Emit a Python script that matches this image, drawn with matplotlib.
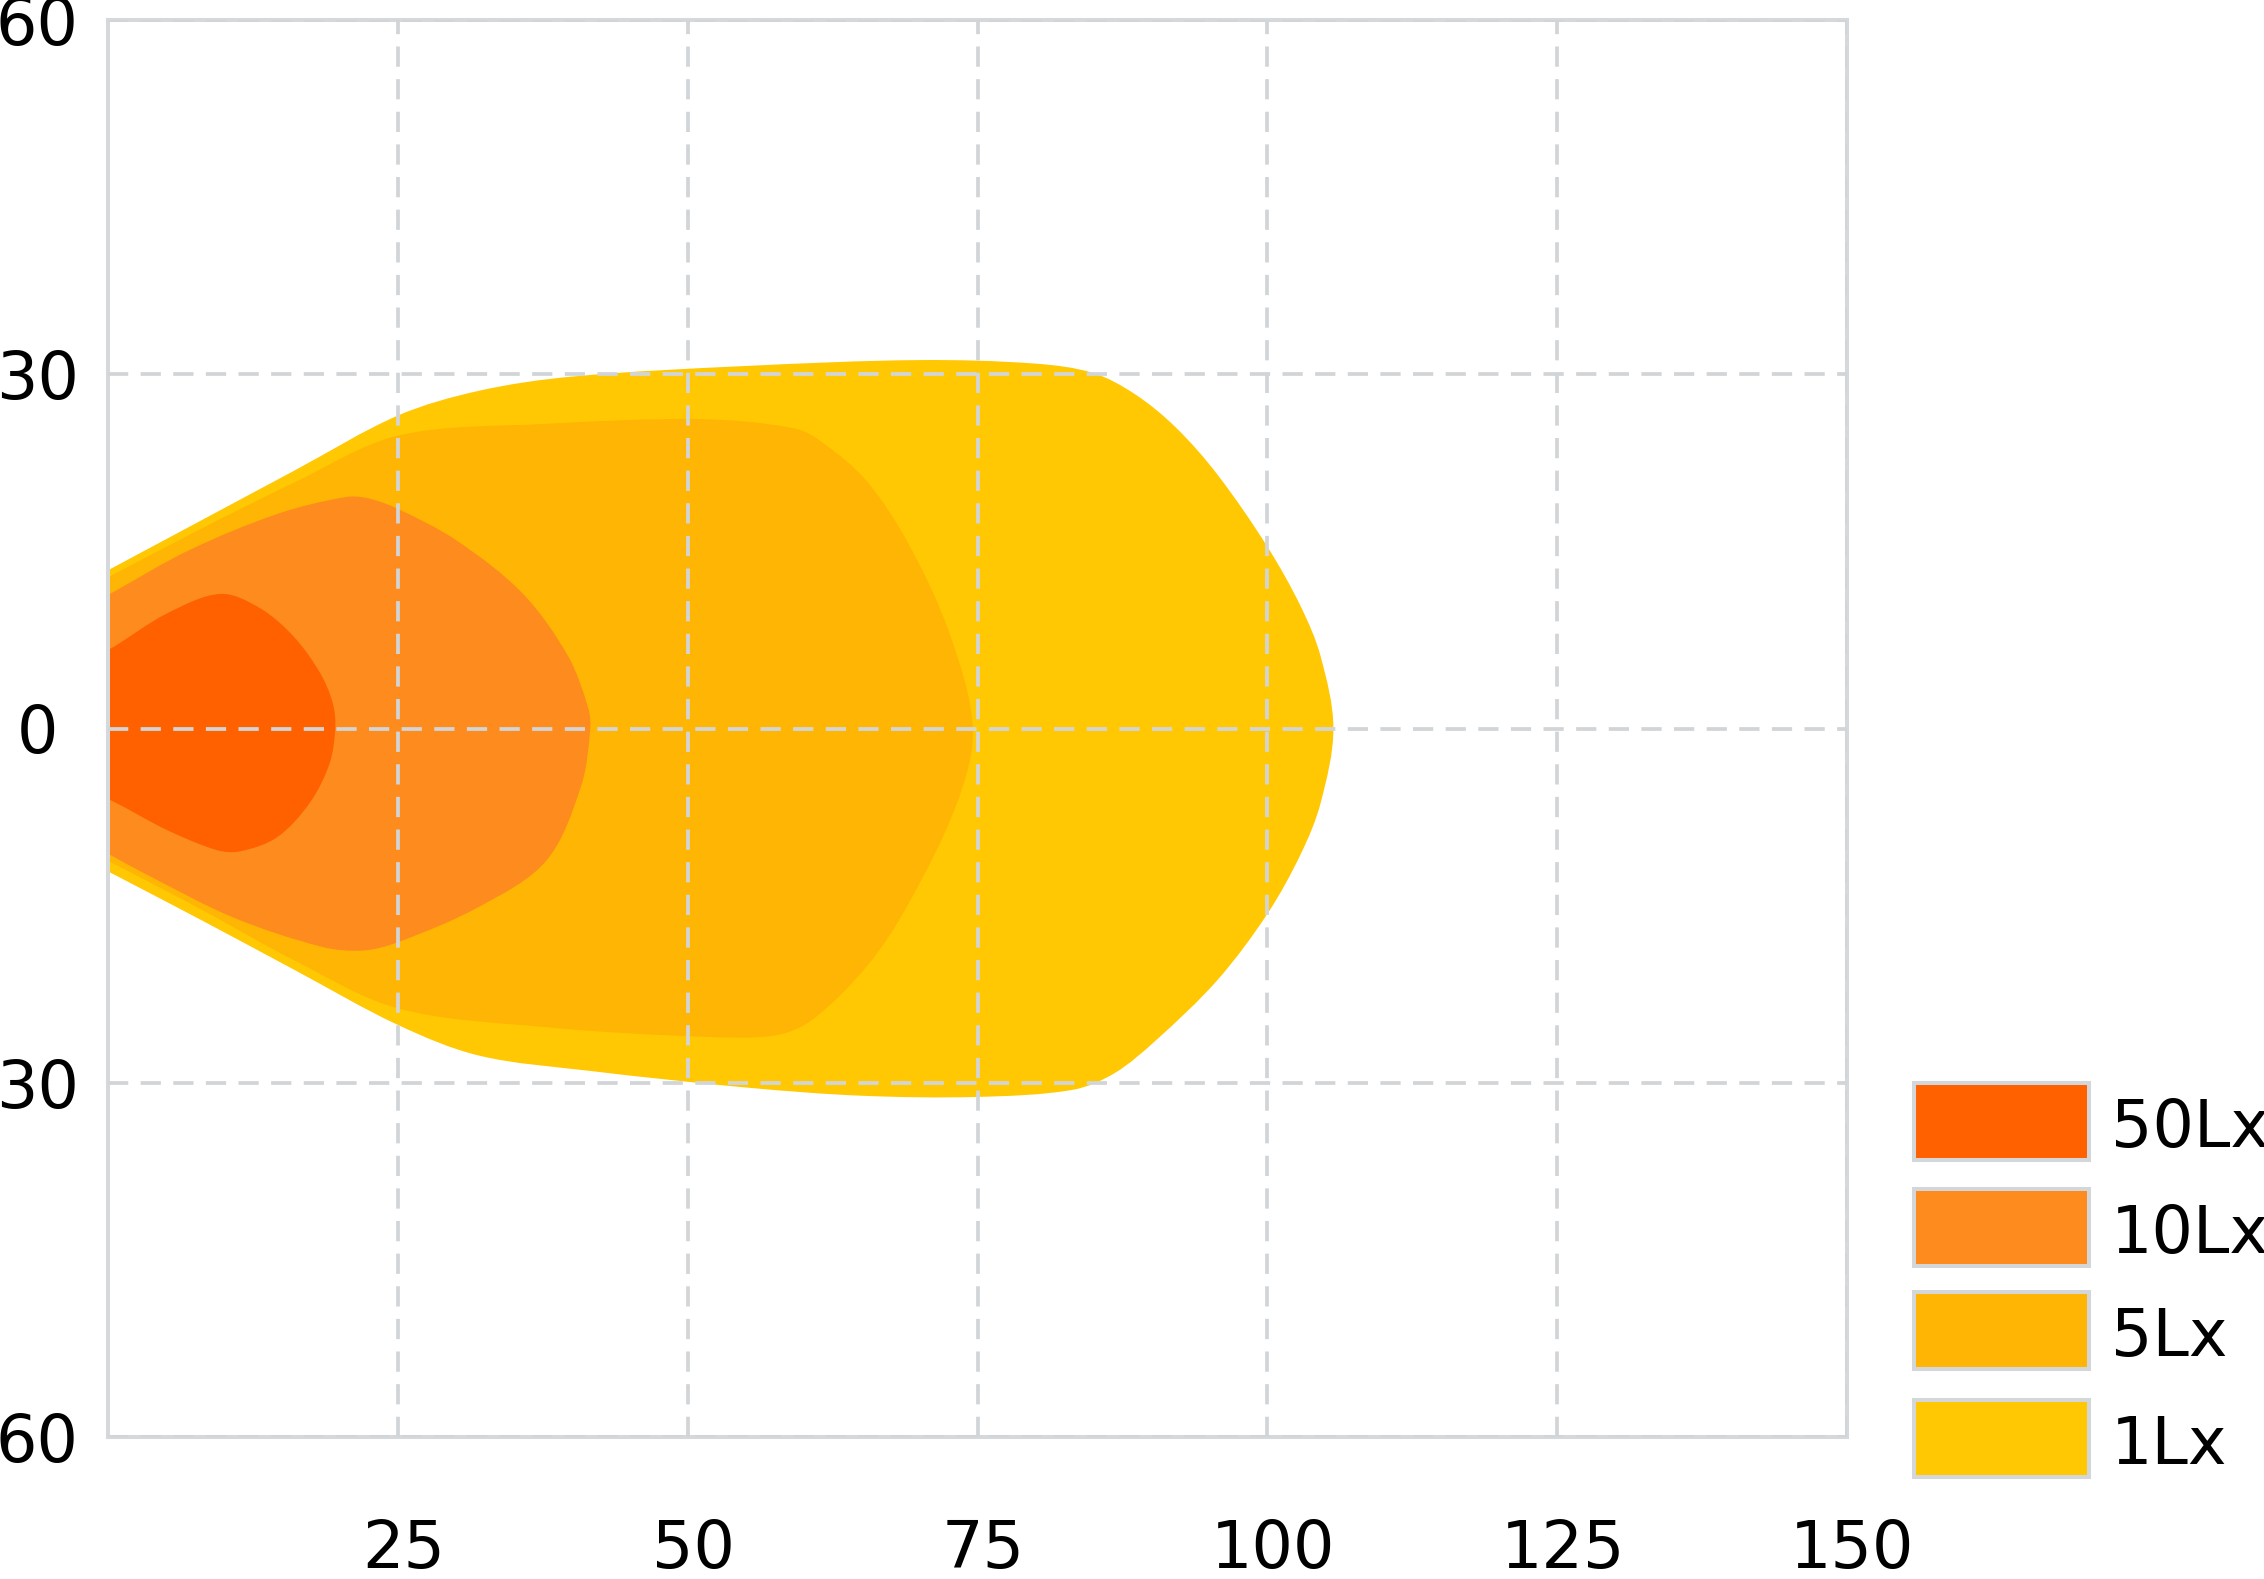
import matplotlib
matplotlib.use("Agg")
import matplotlib.pyplot as plt
import matplotlib.patches as mpatches
import matplotlib.transforms as mtransforms
from matplotlib.path import Path

# isolux outlines (distance, angle), top-left -> tip -> bottom-left
lux_labels = ["50Lx", "10Lx", "5Lx", "1Lx"]
lux_colors = ["#ff6100", "#fd8b1e", "#ffb503", "#ffc802"]

x_1lx = [0, 8, 16, 25, 32, 40, 55, 70, 80, 85, 88.6, 92.1, 95.7, 100, 102.9, 104.6, 105.7,
         104.6, 102.9, 100, 95.7, 90.4, 86.8, 83.2, 75, 65, 55, 41.6, 32, 25, 16, 8, 0]
y_1lx = [13.4, 17.6, 21.8, 26.5, 28.6, 29.8, 30.7, 31.2, 30.9, 30.1, 28.3, 25.5, 21.5, 15.4, 10.3, 6.1, 0,
         -6.3, -10.6, -15.7, -21.3, -26.4, -29.2, -30.6, -31.2, -31.1, -30.4, -29.0, -27.7, -25.1, -20.4, -16.2, -12.1]

x_5lx = [0, 8, 16, 25, 37.8, 51.1, 59.3, 61.8, 65.4, 68.9, 72.5, 74.6,
         73.2, 68.9, 65.4, 60.7, 57.5, 51.1, 37.8, 25, 16, 8, 0]
y_5lx = [12.8, 16.9, 20.8, 24.8, 25.8, 26.2, 25.4, 24.1, 21.0, 15.9, 8.3, 0,
         -6.4, -15.1, -20.2, -24.7, -26.0, -26.1, -25.3, -23.7, -19.6, -15.3, -11.2]

x_10lx = [0, 7, 14.7, 20.5, 22.4, 25, 30.1, 35.8, 39.7, 41.4, 41.6,
          40.8, 37.8, 32, 25, 22, 18.5, 10.8, 3.2, 0]
y_10lx = [11.3, 15.1, 18.2, 19.6, 19.5, 18.6, 15.9, 11.4, 6.1, 1.8, 0,
          -4.9, -11.2, -15.1, -18.1, -18.8, -18.5, -16.0, -12.3, -10.6]

x_50lx = [0.3, 5.1, 9.7, 13.1, 16.0, 18.3, 19.4, 19.6,
          19.1, 17.4, 14.6, 11.4, 9.4, 5.1, 0.3]
y_50lx = [6.8, 9.75, 11.4, 10.2, 7.8, 4.7, 2.1, 0,
          -3.0, -6.3, -9.2, -10.4, -10.3, -8.6, -6.1]

x_ticks = [25, 50, 75, 100, 125, 150]
y_ticks = [60, 30, 0, -30, -60]
y_tick_labels = ["60", "30", "0", "30", "60"]


def outline_path(xs, ys):
    # smooth bezier through the read points, closed straight along the left edge
    pts = list(zip(xs, ys))
    if pts[0][0] > 0:
        pts = [(0, pts[0][1])] + pts + [(0, pts[-1][1])]
    n = len(pts)

    def dist(a, b):
        return ((a[0] - b[0]) ** 2 + (a[1] - b[1]) ** 2) ** 0.5

    verts = [pts[0]]
    codes = [Path.MOVETO]
    for i in range(n - 1):
        p0 = pts[max(i - 1, 0)]
        p1 = pts[i]
        p2 = pts[i + 1]
        p3 = pts[min(i + 2, n - 1)]
        d01, d12, d23 = dist(p0, p1), dist(p1, p2), dist(p2, p3)
        m1 = [(p2[k] - p0[k]) / (d01 + d12) for k in range(2)]
        m2 = [(p3[k] - p1[k]) / (d12 + d23) for k in range(2)]
        c1 = (p1[0] + m1[0] * d12 / 3, p1[1] + m1[1] * d12 / 3)
        c2 = (p2[0] - m2[0] * d12 / 3, p2[1] - m2[1] * d12 / 3)
        verts += [c1, c2, p2]
        codes += [Path.CURVE4] * 3
    verts.append(pts[0])
    codes.append(Path.CLOSEPOLY)
    return Path(verts, codes)


W, H, DPI = 2264, 1579, 100
fig = plt.figure(figsize=(W / DPI, H / DPI), dpi=DPI)
ax = fig.add_axes([108 / W, 142 / H, (1847 - 108) / W, (1437 - 20) / H])

shapes = [(x_1lx, y_1lx), (x_5lx, y_5lx), (x_10lx, y_10lx), (x_50lx, y_50lx)]
fill_colors = lux_colors[::-1]
for (xs, ys), c in zip(shapes, fill_colors):
    ax.add_patch(mpatches.PathPatch(outline_path(xs, ys), facecolor=c, edgecolor="none", zorder=1))

ax.set_xlim(0, 150)
ax.set_ylim(-60, 60)
ax.set_xticks(x_ticks)
ax.set_yticks(y_ticks)
ax.set_yticklabels(y_tick_labels)

grid_color = "#d2d5d8"
ax.set_axisbelow(False)
ax.grid(True, color=grid_color, linewidth=2.7, linestyle=(0, (5.4, 3.3)))
for s in ax.spines.values():
    s.set_color("#d5d9db")
    s.set_linewidth(2.9)

fs = 47
ax.tick_params(axis="both", length=0, labelsize=fs, colors="black")
ax.tick_params(axis="x", pad=58)
ax.tick_params(axis="y", pad=51)
for lab in ax.get_yticklabels():
    lab.set_horizontalalignment("center")
shift = mtransforms.ScaledTranslation(4 / 72, 0, fig.dpi_scale_trans)
for lab in ax.get_xticklabels():
    lab.set_transform(lab.get_transform() + shift)

# legend: swatches with grey frame, label to the right
box_tops = [1081, 1187, 1290, 1398]
for top, c, lab in zip(box_tops, lux_colors, lux_labels):
    rect = mpatches.Rectangle((1914 / W, 1 - (top + 79) / H), 175 / W, 77 / H,
                              transform=fig.transFigure, facecolor=c,
                              edgecolor="#d3d7d9", linewidth=2.9)
    fig.add_artist(rect)
    fig.text(2111 / W, 1 - (top + 66) / H, lab, fontsize=fs, ha="left", va="baseline")

fig.savefig("out.png", dpi=DPI)
